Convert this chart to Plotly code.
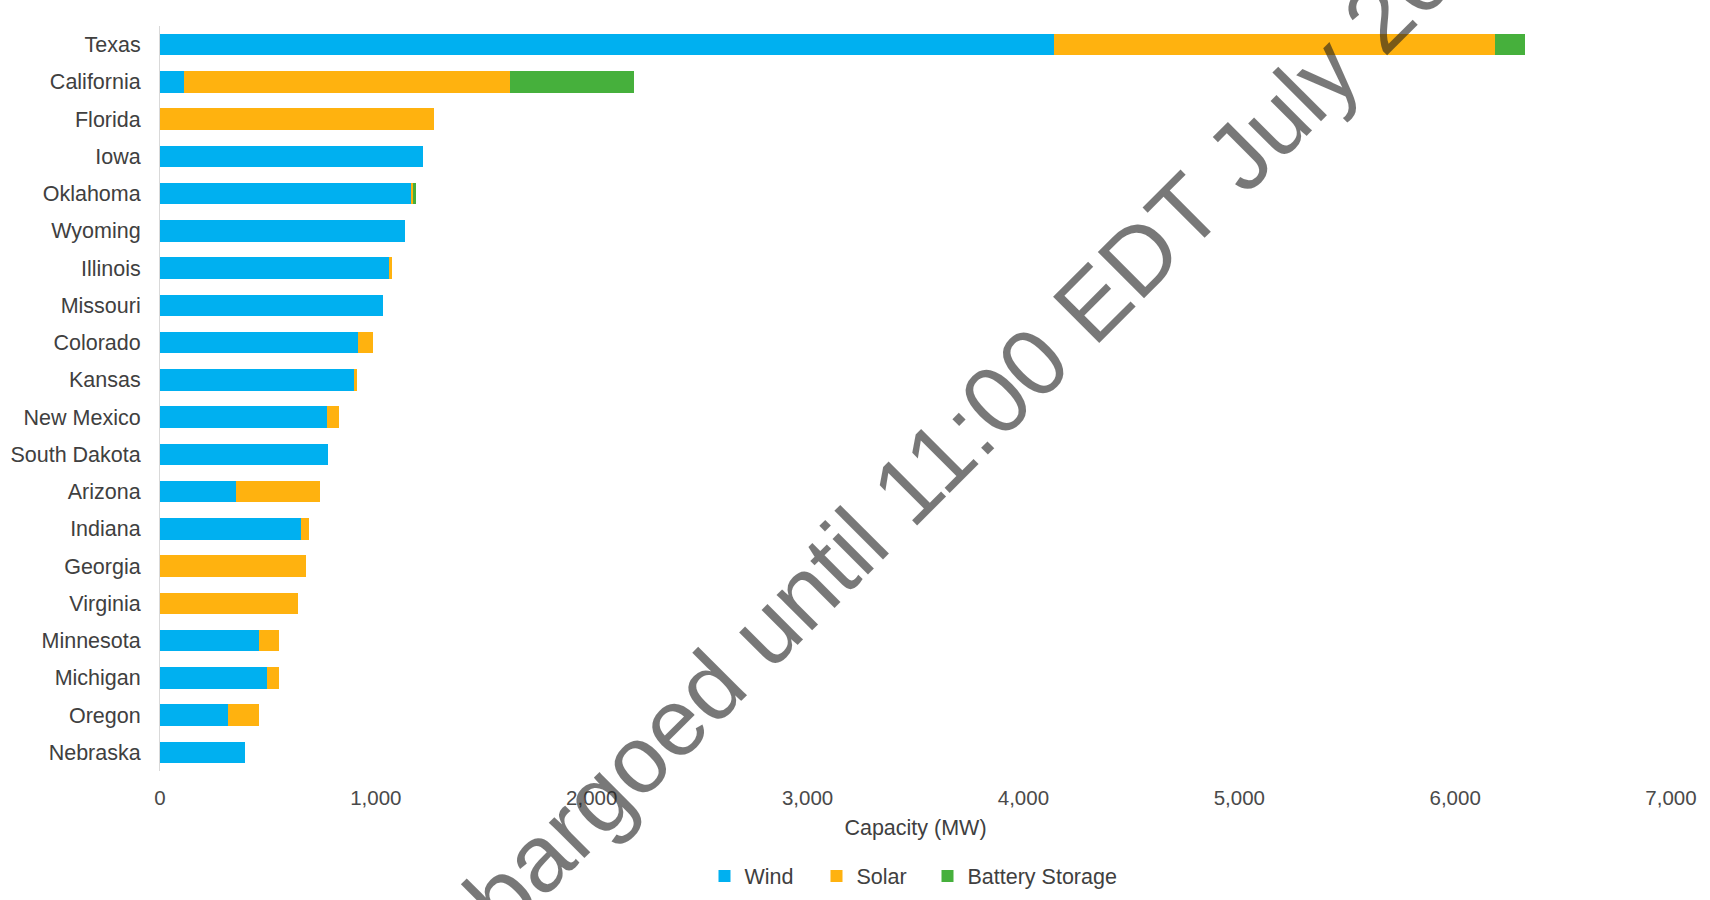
import plotly.graph_objects as go

states = ["Texas", "California", "Florida", "Iowa", "Oklahoma", "Wyoming", "Illinois",
          "Missouri", "Colorado", "Kansas", "New Mexico", "South Dakota", "Arizona",
          "Indiana", "Georgia", "Virginia", "Minnesota", "Michigan", "Oregon", "Nebraska"]
wind = [4140, 110, 0, 1220, 1165, 1136, 1060, 1032, 916, 899, 773, 780, 351, 654, 0, 0, 460, 497, 314, 395]
solar = [2045, 1510, 1270, 0, 8, 0, 17, 0, 73, 15, 58, 0, 388, 37, 675, 641, 89, 52, 146, 0]
battery = [140, 575, 0, 0, 12, 0, 0, 0, 0, 0, 0, 0, 0, 0, 0, 0, 0, 0, 0, 0]
x_ticks = [0, 1000, 2000, 3000, 4000, 5000, 6000, 7000]
x_ticklabels = ["0", "1,000", "2,000", "3,000", "4,000", "5,000", "6,000", "7,000"]

FONT = "Liberation Sans, Arial, sans-serif"

series = [("Wind", wind, "#00B0F0", "legend"),
          ("Solar", solar, "#FFB20F", "legend2"),
          ("Battery Storage", battery, "#46B03C", "legend3")]

fig = go.Figure()
for name, vals, col, leg in series:
    fig.add_trace(go.Bar(y=states, x=vals, name=name, orientation="h", legend=leg,
                         marker=dict(color=col, line=dict(width=0))))

def legend_at(px):
    return dict(orientation="h", x=(px - 160) / 1511, xanchor="left", y=-0.141, yanchor="middle",
                font=dict(size=21.5, color="#404040"), bgcolor="rgba(0,0,0,0)")

fig.update_layout(
    width=1710, height=900,
    barmode="stack", bargap=0.42,
    paper_bgcolor="white", plot_bgcolor="white",
    margin=dict(l=160, r=39, t=26, b=129, autoexpand=False),
    font=dict(family=FONT, size=21, color="#404040"),
    legend=legend_at(704.5),
    legend2=legend_at(816.5),
    legend3=legend_at(927.5),
    showlegend=True,
)
fig.update_xaxes(range=[0, 7000], tickvals=x_ticks, ticktext=x_ticklabels, automargin=False,
                 showgrid=False, zeroline=False, showline=False,
                 tickfont=dict(size=20.5, color="#4a4a4a"), ticklabelstandoff=12,
                 title=dict(text="Capacity (MW)", font=dict(size=21.5, color="#404040"), standoff=12))
fig.update_yaxes(categoryorder="array", categoryarray=states, autorange="reversed", automargin=False,
                 showgrid=False, zeroline=False, showline=True, linecolor="#d9d9d9", linewidth=1,
                 tickfont=dict(size=21.5, color="#404040"), ticklabelstandoff=14)

fig.add_annotation(text="Embargoed until 11:00 EDT July 20, 2023",
                   xref="paper", yref="paper", x=0.5572, y=0.5055,
                   xanchor="center", yanchor="middle", textangle=-45, showarrow=False,
                   font=dict(family=FONT, size=95, color="rgba(30,30,30,0.6)"))

fig.write_html("out.html")
